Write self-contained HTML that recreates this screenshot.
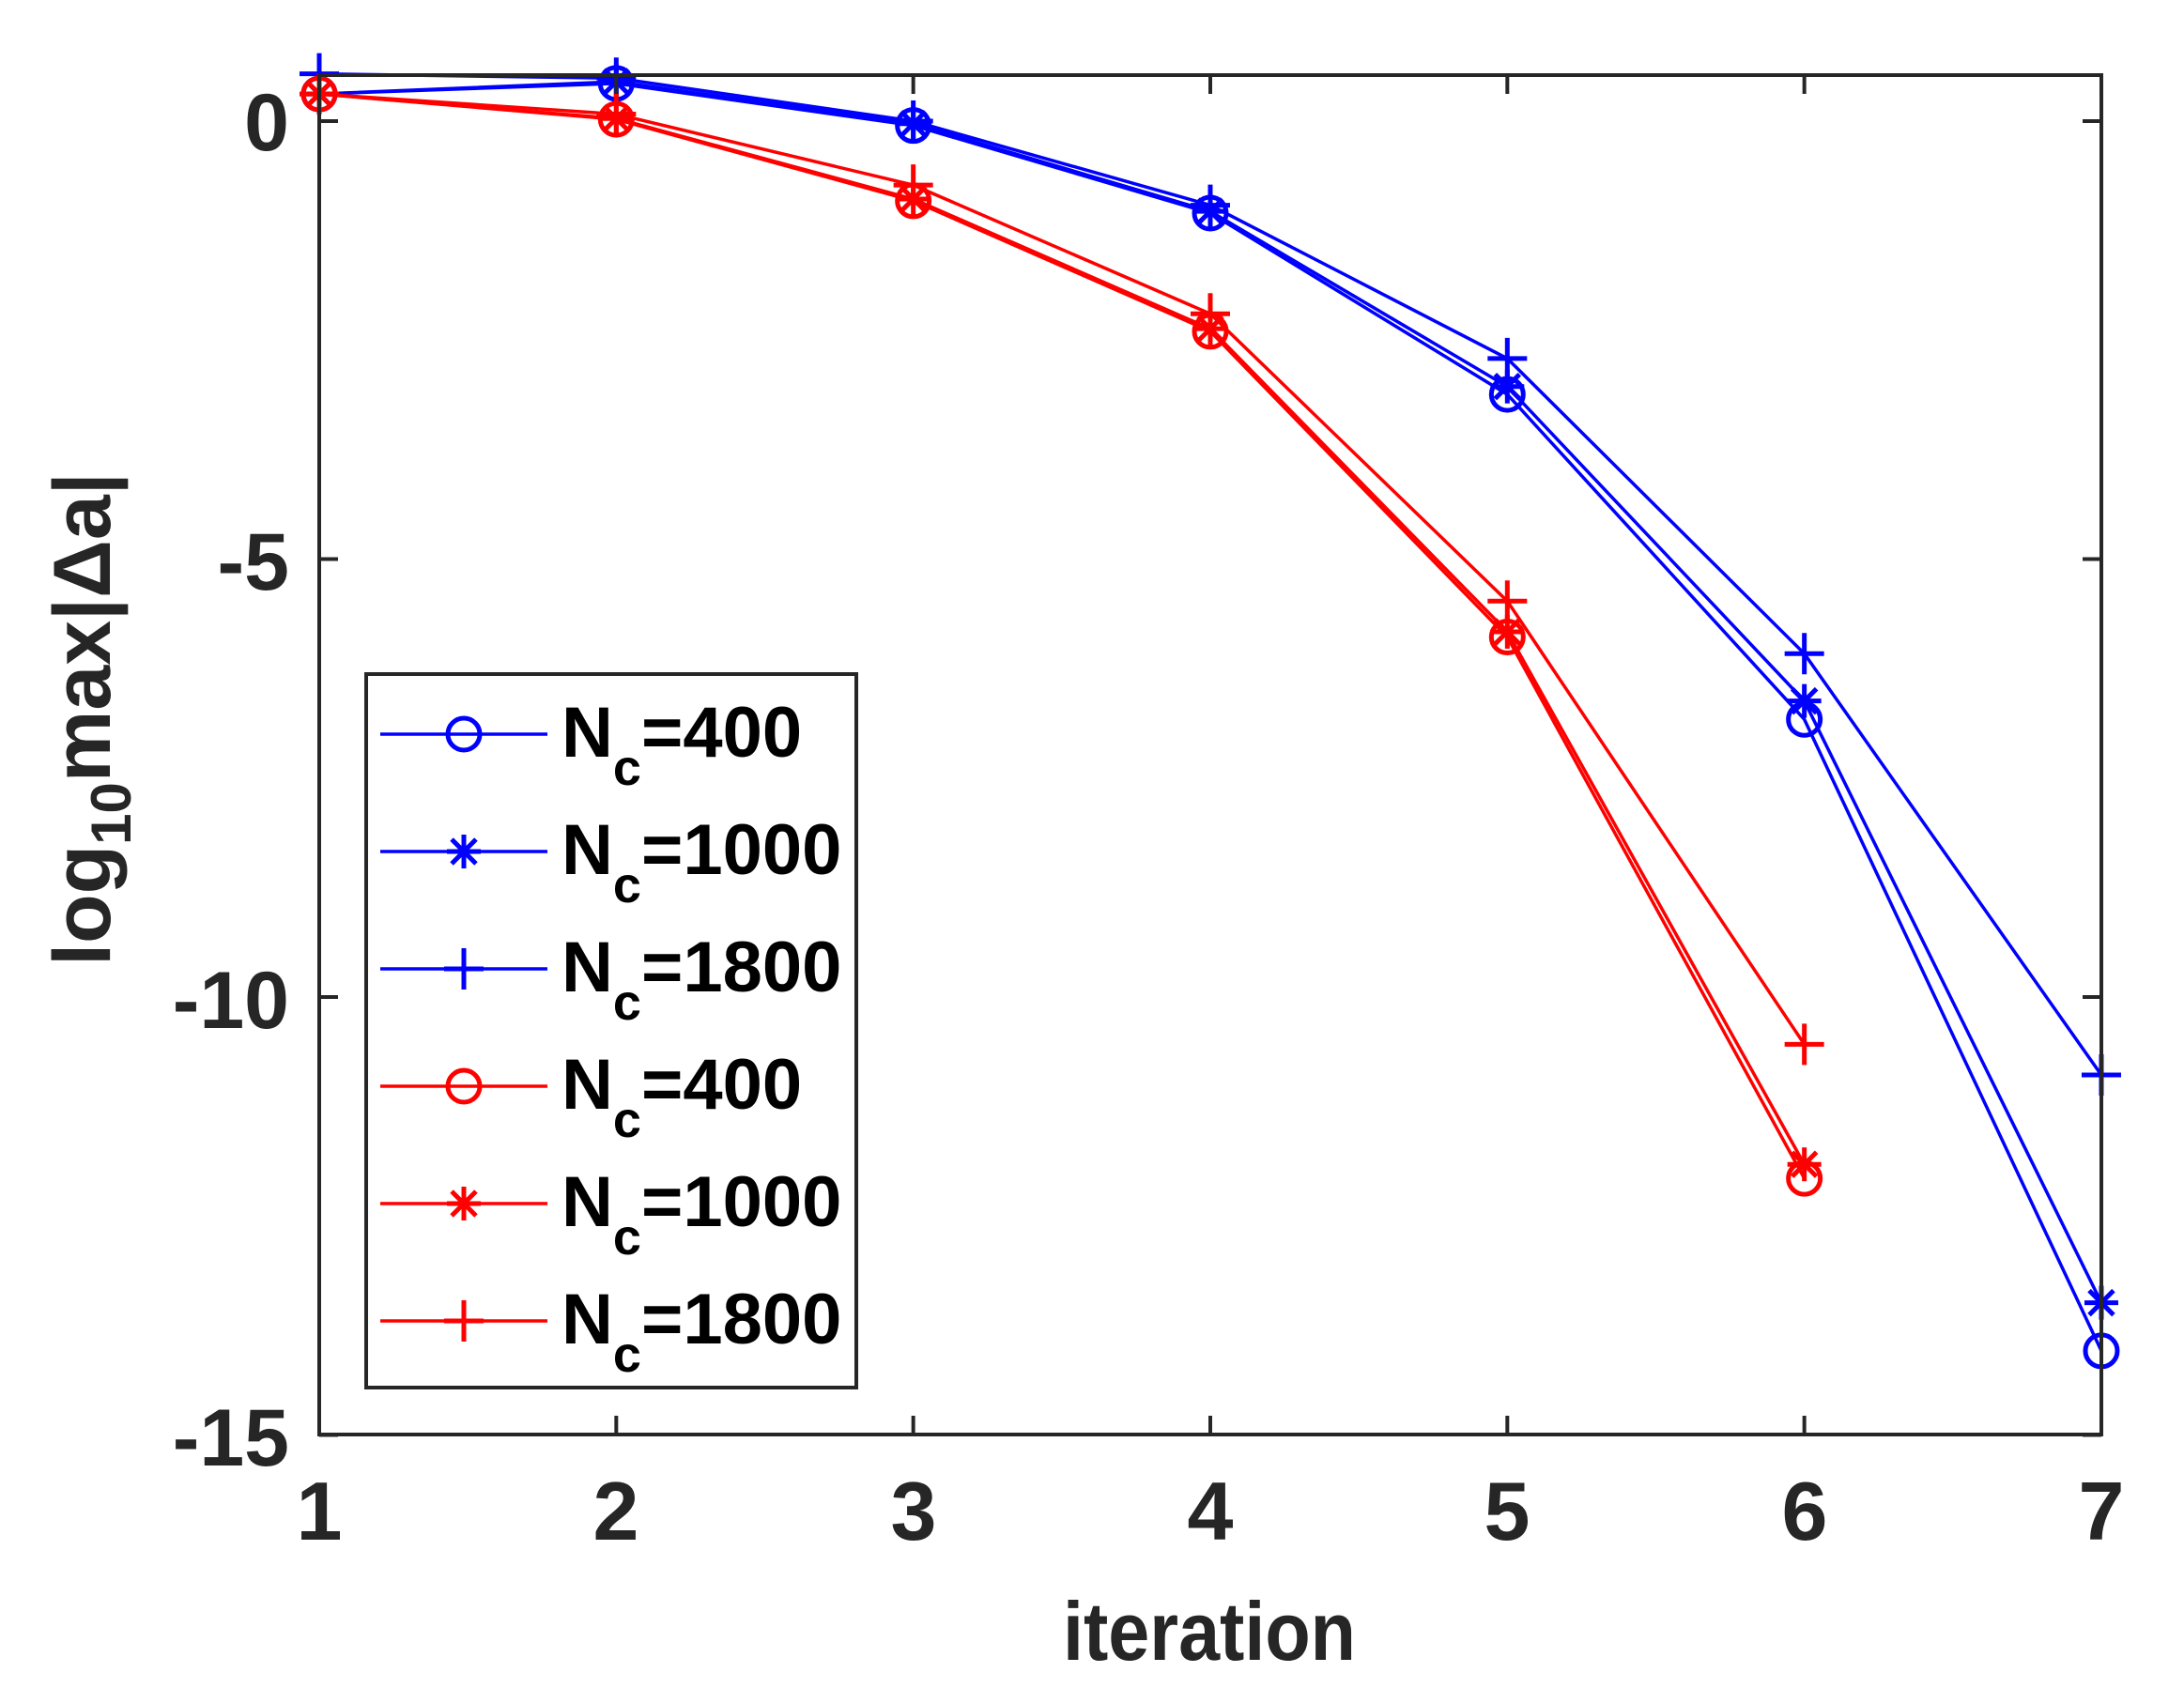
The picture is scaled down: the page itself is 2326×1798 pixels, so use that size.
<!DOCTYPE html>
<html><head><meta charset="utf-8"><style>
html,body{margin:0;padding:0;background:#fff;}
svg{display:block;}
text{font-family:"Liberation Sans",sans-serif;font-weight:bold;fill:#262626;}
</style></head><body>
<svg id="s" width="2326" height="1798" viewBox="0 0 2326 1798" xmlns="http://www.w3.org/2000/svg">
<rect x="0" y="0" width="2326" height="1798" fill="#fff"/>
<g id="plot"></g>
<g stroke="#262626" stroke-width="4" fill="none">
<rect x="340" y="80" width="1898" height="1448"/>
</g>
<g id="ticks" stroke="#262626" stroke-width="4"></g>
<g font-size="88" text-anchor="middle">
<text x="340" y="1640">1</text>
<text x="656" y="1640">2</text>
<text x="973" y="1640">3</text>
<text x="1289" y="1640">4</text>
<text x="1605" y="1640">5</text>
<text x="1922" y="1640">6</text>
<text x="2238" y="1640">7</text>
</g>
<g font-size="86" text-anchor="end">
<text x="308" y="160">0</text>
<text x="308" y="628">-5</text>
<text x="308" y="1095">-10</text>
<text x="308" y="1561">-15</text>
</g>
<text x="1288" y="1768" font-size="88" text-anchor="middle" textLength="312" lengthAdjust="spacingAndGlyphs">iteration</text>
<text transform="translate(117,766) rotate(-90)" font-size="86" text-anchor="middle">log<tspan font-size="60" dy="22">10</tspan><tspan dy="-22">max|Δa|</tspan></text>
<rect x="390" y="718" width="522" height="760" fill="#fff" stroke="#262626" stroke-width="4"/>
<g id="leg"></g>
<g font-size="76">
<text x="598" y="806" style="fill:#000">N<tspan font-size="54" dy="30">c</tspan><tspan dy="-30">=400</tspan></text>
<text x="598" y="931" style="fill:#000">N<tspan font-size="54" dy="30">c</tspan><tspan dy="-30">=1000</tspan></text>
<text x="598" y="1056" style="fill:#000">N<tspan font-size="54" dy="30">c</tspan><tspan dy="-30">=1800</tspan></text>
<text x="598" y="1181" style="fill:#000">N<tspan font-size="54" dy="30">c</tspan><tspan dy="-30">=400</tspan></text>
<text x="598" y="1306" style="fill:#000">N<tspan font-size="54" dy="30">c</tspan><tspan dy="-30">=1000</tspan></text>
<text x="598" y="1431" style="fill:#000">N<tspan font-size="54" dy="30">c</tspan><tspan dy="-30">=1800</tspan></text>
</g>
</svg>
<script>
var NS="http://www.w3.org/2000/svg";
function X(i){return 340+(i-1)*316.33;}
function Y(v){return 129-v*93.3;}
function el(p,t,a){var e=document.createElementNS(NS,t);for(var k in a)e.setAttribute(k,a[k]);p.appendChild(e);return e;}
var tk=document.getElementById('ticks');
for(var i=1;i<=7;i++){var x=X(i);el(tk,'line',{x1:x,y1:1528,x2:x,y2:1508});el(tk,'line',{x1:x,y1:80,x2:x,y2:100});}
[0,-5,-10,-15].forEach(function(v){var y=Y(v);el(tk,'line',{x1:340,y1:y,x2:360,y2:y});el(tk,'line',{x1:2238,y1:y,x2:2218,y2:y});});
var B="#0000ff",R="#ff0000";
var series=[
 {c:B,m:'o',d:[0.31,0.43,-0.05,-1.05,-3.12,-6.83,-14.04]},
 {c:B,m:'*',d:[0.31,0.45,-0.03,-1.03,-3.03,-6.62,-13.49]},
 {c:B,m:'+',d:[0.54,0.49,0.0,-0.96,-2.71,-6.08,-10.89]},
 {c:R,m:'o',d:[0.31,0.02,-0.91,-2.40,-5.89,-12.07]},
 {c:R,m:'*',d:[0.31,0.03,-0.89,-2.37,-5.83,-11.91]},
 {c:R,m:'+',d:[0.31,0.08,-0.73,-2.20,-5.48,-10.54]}
];
function marker(g,m,x,y,c){
 if(m=='o'){el(g,'circle',{cx:x,cy:y,r:17,fill:'none',stroke:c,'stroke-width':5});}
 else if(m=='+'){el(g,'line',{x1:x-21,y1:y,x2:x+21,y2:y,stroke:c,'stroke-width':5});el(g,'line',{x1:x,y1:y-22,x2:x,y2:y+22,stroke:c,'stroke-width':5});}
 else{var r=18;el(g,'line',{x1:x-r,y1:y,x2:x+r,y2:y,stroke:c,'stroke-width':5});el(g,'line',{x1:x,y1:y-r,x2:x,y2:y+r,stroke:c,'stroke-width':5});
  var d=r*0.72;el(g,'line',{x1:x-d,y1:y-d,x2:x+d,y2:y+d,stroke:c,'stroke-width':5});el(g,'line',{x1:x-d,y1:y+d,x2:x+d,y2:y-d,stroke:c,'stroke-width':5});}
}
var pg=document.getElementById('plot');
series.forEach(function(s){
 var pts=s.d.map(function(v,i){return X(i+1)+','+Y(v);}).join(' ');
 el(pg,'polyline',{points:pts,fill:'none',stroke:s.c,'stroke-width':3.5,'stroke-linejoin':'round'});
 s.d.forEach(function(v,i){marker(pg,s.m,X(i+1),Y(v),s.c);});
});
var lg=document.getElementById('leg');
series.forEach(function(s,k){var y=782+k*125;
 el(lg,'line',{x1:405,y1:y,x2:583,y2:y,stroke:s.c,'stroke-width':3.5});
 marker(lg,s.m,494,y,s.c);});
</script>
</body></html>
